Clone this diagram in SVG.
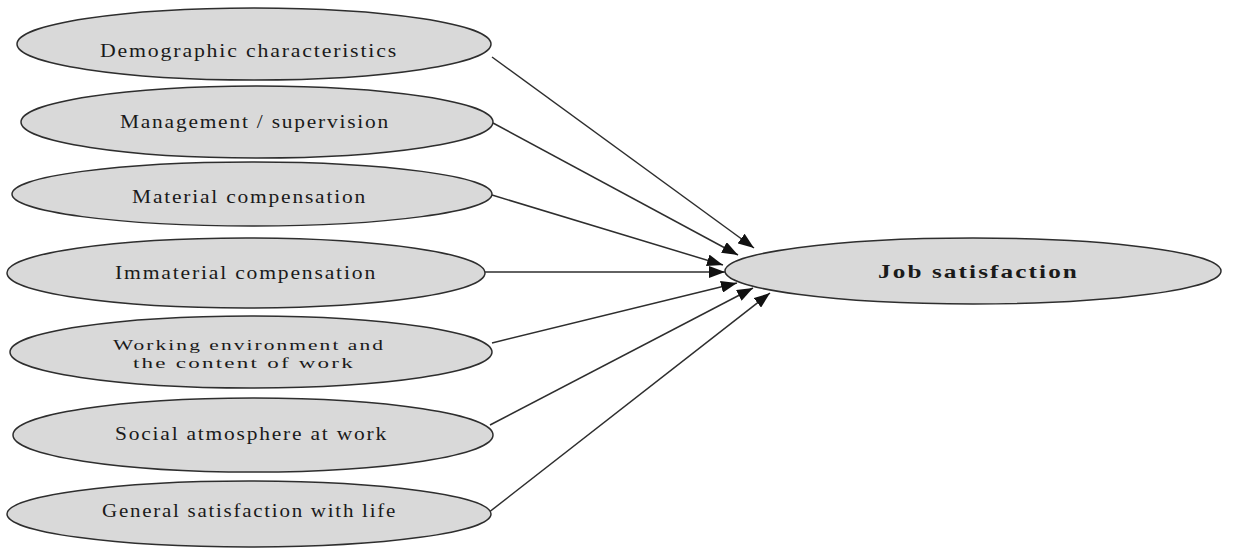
<svg xmlns="http://www.w3.org/2000/svg" width="1236" height="548" viewBox="0 0 1236 548">
  <style>
    .node { fill: #d9d9d9; stroke: #2e2e2e; stroke-width: 1.5; }
    .lbl { font-family: "Liberation Serif", "Times New Roman", serif; font-size: 18px; letter-spacing: 1.5px; fill: #1a1a1a; }
    .small { font-size: 15.5px; }
    .bold { font-weight: bold; }
    .edge { stroke: #2e2e2e; stroke-width: 1.5; fill: none; marker-end: url(#arrow); }
  </style>
  <defs>
    <marker id="arrow" viewBox="0 0 16 12" refX="16" refY="6" markerWidth="16" markerHeight="12" markerUnits="userSpaceOnUse" orient="auto">
      <path d="M0,0 L16,6 L0,12 Z" fill="#111"/>
    </marker>
  </defs>
  <rect width="1236" height="548" fill="#ffffff"/>

  <g id="connectors">
    <path class="edge" d="M492,57 L754,248"/>
    <path class="edge" d="M493,123 L738,255"/>
    <path class="edge" d="M492,195 L723,265"/>
    <path class="edge" d="M485,272 L725,272"/>
    <path class="edge" d="M492,343 L737,283"/>
    <path class="edge" d="M490,425 L753,288"/>
    <path class="edge" d="M488,513 L770,293"/>
  </g>

  <g id="demographic">
    <ellipse class="node" cx="254" cy="44" rx="237" ry="36"/>
    <text class="lbl" x="100" y="57" textLength="298" lengthAdjust="spacingAndGlyphs">Demographic characteristics</text>
  </g>
  <g id="management">
    <ellipse class="node" cx="257" cy="122" rx="236" ry="36"/>
    <text class="lbl" x="120" y="128" textLength="270" lengthAdjust="spacingAndGlyphs">Management / supervision</text>
  </g>
  <g id="material">
    <ellipse class="node" cx="252" cy="194" rx="240" ry="32"/>
    <text class="lbl" x="132" y="203" textLength="235" lengthAdjust="spacingAndGlyphs">Material compensation</text>
  </g>
  <g id="immaterial">
    <ellipse class="node" cx="246" cy="273" rx="239" ry="35"/>
    <text class="lbl" x="115" y="279" textLength="262" lengthAdjust="spacingAndGlyphs">Immaterial compensation</text>
  </g>
  <g id="working">
    <ellipse class="node" cx="251" cy="352" rx="241" ry="36"/>
    <text class="lbl small" x="113" y="350" textLength="272" lengthAdjust="spacingAndGlyphs">Working environment and</text>
    <text class="lbl small" x="133" y="368" textLength="222" lengthAdjust="spacingAndGlyphs">the content of work</text>
  </g>
  <g id="social">
    <ellipse class="node" cx="253" cy="435" rx="240" ry="37"/>
    <text class="lbl" x="115" y="440" textLength="273" lengthAdjust="spacingAndGlyphs">Social atmosphere at work</text>
  </g>
  <g id="general">
    <ellipse class="node" cx="249" cy="514" rx="242" ry="33"/>
    <text class="lbl" x="102" y="517" textLength="295" lengthAdjust="spacingAndGlyphs">General satisfaction with life</text>
  </g>
  <g id="job-satisfaction">
    <ellipse class="node" cx="973" cy="271" rx="248" ry="33"/>
    <text class="lbl bold" x="878" y="278" textLength="201" lengthAdjust="spacingAndGlyphs">Job satisfaction</text>
  </g>
</svg>
